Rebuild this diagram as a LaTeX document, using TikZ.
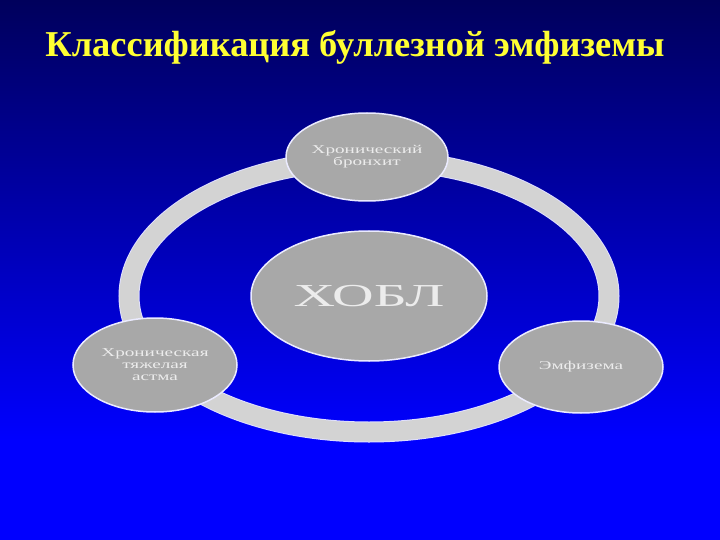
\documentclass[tikz,border=0pt]{standalone}
\usepackage{fontspec}
\setmainfont{Liberation Serif}
\newfontfamily\wideserif[FakeStretch=1.6]{Liberation Serif}
\newfontfamily\widerserif[FakeStretch=1.8]{Liberation Serif}
\usetikzlibrary{shapes.geometric}
\definecolor{bgtop}{HTML}{00005C}
\definecolor{bgbot}{HTML}{0000FF}
\definecolor{ovalfill}{HTML}{A8A8A8}
\definecolor{ringgray}{HTML}{D3D3D3}
\definecolor{ovaltext}{HTML}{ECECEC}
\definecolor{titleyellow}{HTML}{FFFF33}

\begin{document}
\begin{tikzpicture}[x=1pt,y=-1pt,
	oval/.style={ellipse,fill=ovalfill,draw=white!92!blue,line width=1.5pt,inner sep=0pt,text=ovaltext,align=center,font=\wideserif\fontsize{12}{12}\selectfont},
	ring/.style={draw=white!88!blue,line width=1pt,double=ringgray,double distance=19pt}]
	\useasboundingbox (0,0) rectangle (720,540);
	\shade[top color=bgtop,bottom color=bgbot] (0,0) rectangle (720,440);
	\fill[bgbot] (0,440) rectangle (720,540);
	\node[text=titleyellow,anchor=base,font=\bfseries\fontsize{36.4}{36}\selectfont] (title) at (355,57) {Классификация буллезной эмфиземы};
	\node[oval,minimum width=236pt,minimum height=130pt,font=\widerserif\fontsize{32}{32}\selectfont] (hub) at (369,296) {ХОБЛ};
	\draw[ring] (hub.center) ellipse [x radius=240, y radius=136];
	\node[oval,minimum width=162pt,minimum height=88pt] (bronch) at (367,157) {Хронический\\бронхит};
	\node[oval,minimum width=164pt,minimum height=94pt] (asthma) at (155,365) {Хроническая\\тяжелая\\астма};
	\node[oval,minimum width=164pt,minimum height=92pt] (emph) at (581,367) {Эмфизема};
\end{tikzpicture}
\end{document}
